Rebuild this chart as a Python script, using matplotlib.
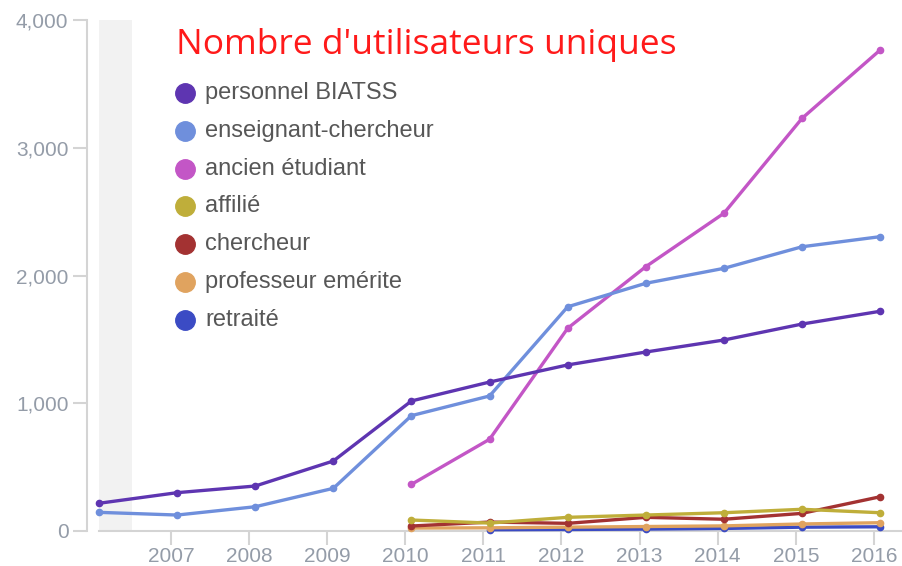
import numpy as np
import matplotlib
matplotlib.use("Agg")
from matplotlib import pyplot as plt
from matplotlib.ticker import FuncFormatter

# data (points sit a little after Jan 1)
years_all = [2006, 2007, 2008, 2009, 2010, 2011, 2012, 2013, 2014, 2015, 2016]
years_2010 = [2010, 2011, 2012, 2013, 2014, 2015, 2016]
years_2011 = [2011, 2012, 2013, 2014, 2015, 2016]

biatss = [217, 300, 352, 548, 1018, 1166, 1300, 1401, 1495, 1620, 1720]
enseignant = [146, 125, 190, 334, 903, 1057, 1755, 1939, 2056, 2225, 2304]
ancien = [365, 718, 1587, 2069, 2487, 3230, 3765]
affilie = [86, 62, 107, 125, 143, 170, 143]
chercheur = [39, 70, 60, 107, 92, 138, 268]
emerite = [23, 25, 30, 35, 40, 55, 65]
retraite = [10, 12, 15, 20, 30, 33]

labels = ["personnel BIATSS", "enseignant-chercheur", "ancien étudiant", "affilié",
          "chercheur", "professeur emérite", "retraité"]
colors = ["#5e35b1", "#6f8fdc", "#c356c6", "#bfae3a", "#a33232", "#e0a35f", "#3b4bc4"]

title = "Nombre d'utilisateurs uniques"

OFFSET = 0.08


def main():
    fig = plt.figure(figsize=(9.02, 5.66), dpi=100)
    ax = fig.add_axes([99 / 902, 1 - 531 / 566, 1 - 99 / 902, (531 - 20) / 566])

    series = [(years_all, biatss), (years_all, enseignant), (years_2010, ancien),
              (years_2010, affilie), (years_2010, chercheur), (years_2010, emerite),
              (years_2011, retraite)]
    # draw small ones first so the big lines stay on top
    for i in [6, 5, 4, 3, 2, 1, 0]:
        xs, ys = series[i]
        ax.plot(np.array(xs) + OFFSET, ys, color=colors[i], lw=2.4, marker="o",
                markersize=4.5, clip_on=False, zorder=3)

    # grey band on the left
    ax.axvspan(2006 + OFFSET, 2006.5, color="#f2f2f2", lw=0, zorder=0)

    ax.set_xlim(2006 + OFFSET, 2016.36)
    ax.set_ylim(0, 4000)
    ax.set_xticks(range(2007, 2017))
    ax.set_yticks([0, 1000, 2000, 3000, 4000])
    ax.yaxis.set_major_formatter(FuncFormatter(lambda v, p: "{:,.0f}".format(v)))

    for s in ["top", "right"]:
        ax.spines[s].set_visible(False)
    ax.spines["left"].set_position(("outward", 9))
    for s in ["left", "bottom"]:
        ax.spines[s].set_color("#d4d4d4")
        ax.spines[s].set_linewidth(1.5)
    ax.tick_params(colors="#d4d4d4", width=1.5, length=10, labelcolor="#949ca8",
                   labelsize=15)
    ax.tick_params(axis="x", pad=1.5)
    ax.tick_params(axis="y", pad=3)
    for t in ax.get_xticklabels() + ax.get_yticklabels():
        t.set_fontfamily("Liberation Sans")

    # title
    fig.text(176 / 902, 1 - 54 / 566, title, color="#ff1a1a", fontsize=25.5,
             fontfamily="Open Sans", va="baseline", ha="left")

    # legend by hand
    for i, lab in enumerate(labels):
        yc = 93 + i * 37.8
        fig.lines.append(plt.Line2D([185 / 902], [1 - yc / 566], marker="o",
                                    markersize=14, color=colors[i], linestyle="",
                                    transform=fig.transFigure))
        fig.text(205 / 902, 1 - yc / 566, lab, color="#575757", fontsize=17,
                 fontfamily="Liberation Sans", va="center", ha="left")

    fig.savefig("out.png", dpi=100)


if __name__ == '__main__':
    main()
